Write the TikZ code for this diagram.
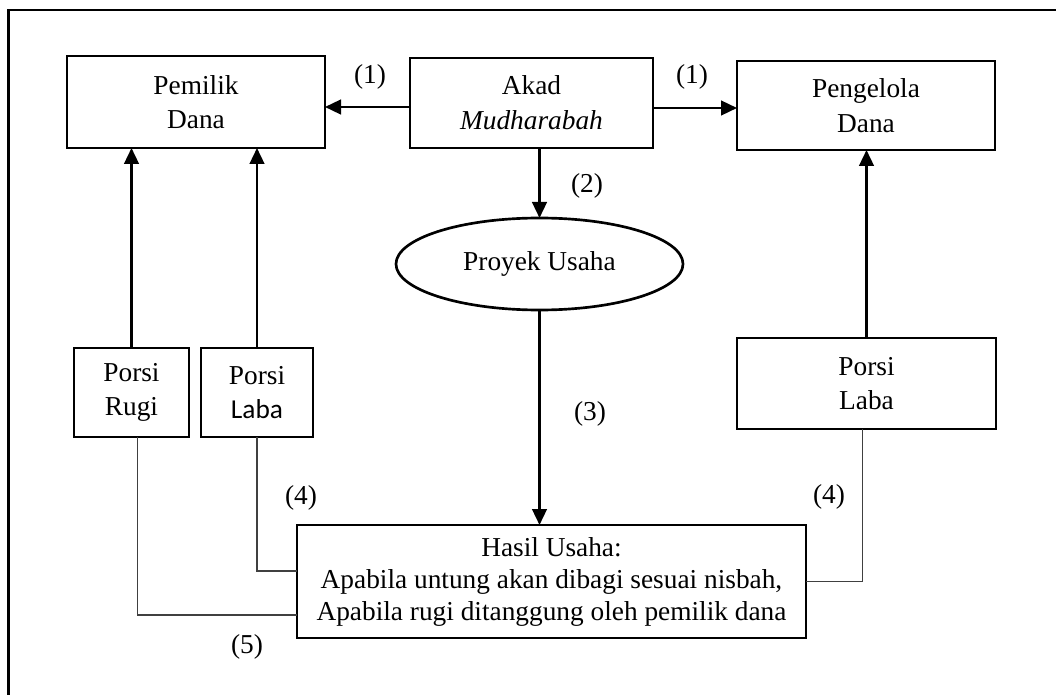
\documentclass[tikz,border=0pt]{standalone}
\usepackage{fontspec}
\setmainfont{Liberation Serif}
\newfontfamily\calibri{Carlito}
\usetikzlibrary{arrows.meta,calc,shapes.geometric}
\begin{document}
\begin{tikzpicture}[x=0.75pt,y=-0.75pt,
  every node/.style={font=\fontsize{20.5}{26}\selectfont, inner sep=0pt, outer sep=0pt},
  box/.style={draw, line width=2pt, align=center},
  arr/.style={line width=1.8pt, -{Triangle[length=12pt,width=11pt]}},
  thinline/.style={line width=1pt, draw=black!75},
  lbl/.style={}
]
\useasboundingbox (0,0) rectangle (1056,695);
% outer frame (only top and left visible)
\draw[line width=1.6pt] (8.5,695) -- (8.5,10) -- (1056,10);

\node[box, minimum width=193.5pt, minimum height=69pt] (pemilik) at (196,102) {Pemilik\\Dana};
\node[box, minimum width=182.25pt, minimum height=67.5pt] (akad) at (531.5,103) {Akad\\\textit{Mudharabah}};
\node[box, minimum width=193.5pt, minimum height=66.75pt] (pengelola) at (866,105.5) {Pengelola\\Dana};
\node[draw, ellipse, line width=2pt, minimum width=215.25pt, minimum height=69pt] (proyek) at (539.5,264) {Proyek Usaha};
\node[box, minimum width=86.25pt, minimum height=66.75pt] (rugi) at (131.5,392.5) {Porsi\\Rugi};
\node[box, minimum width=84pt, minimum height=66.75pt] (labaL) at (257,392.5) {Porsi\\{\calibri Laba}};
\node[box, minimum width=194.25pt, minimum height=68.25pt] (labaR) at (866.5,383.5) {Porsi\\Laba};
\node[box, minimum width=381.75pt, minimum height=84.75pt, font=\fontsize{20.5}{24}\selectfont] (hasil) at (551.5,581.5) {Hasil Usaha:\\Apabila untung akan dibagi sesuai nisbah,\\Apabila rugi ditanggung oleh pemilik dana};

% arrows
\draw[arr] (akad.west |- 0,107) -- (pemilik.east |- 0,107);
\draw[arr] (akad.east |- 0,108) -- (pengelola.west |- 0,108);
\draw[arr] (proyek.north |- akad.south) -- (proyek.north);
\draw[arr] (proyek.south) -- (proyek.south |- hasil.north);
\draw[arr] (rugi.north) -- (rugi.north |- pemilik.south);
\draw[arr] (labaL.north) -- (labaL.north |- pemilik.south);
\draw[arr] (labaR.north) -- (labaR.north |- pengelola.south);

% thin connectors
\draw[thinline] (labaL.south) |- ($(hasil.west)+(0,-10.5)$);
\draw[thinline] ([xshift=4.5pt]rugi.south) |- ($(hasil.west)+(0,33.5)$);
\draw[thinline] ([xshift=-3pt]labaR.south) |- (hasil.east);

% labels
\node[lbl] (l1a) at (370,77) {(1)};
\node[lbl] (l1b) at (692,77) {(1)};
\node[lbl] (l2) at (587,186) {(2)};
\node[lbl] (l3) at (590,414) {(3)};
\node[lbl] (l4a) at (301,498) {(4)};
\node[lbl] (l4b) at (829,497) {(4)};
\node[lbl] (l5) at (247,647) {(5)};
\end{tikzpicture}
\end{document}
